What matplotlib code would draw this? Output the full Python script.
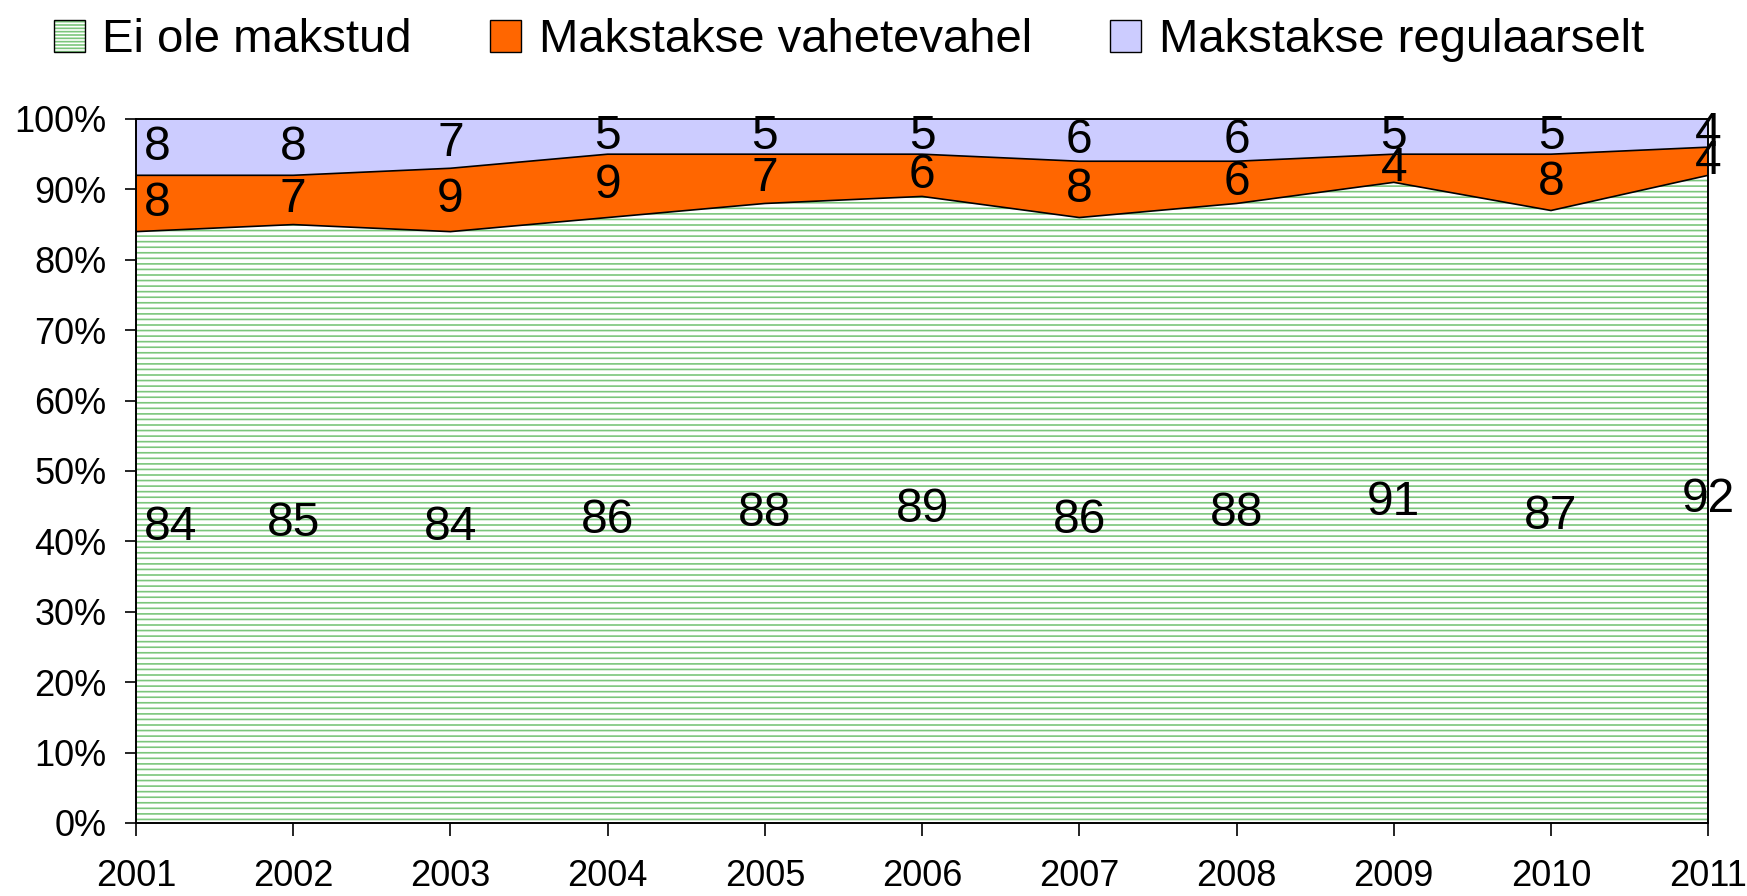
import matplotlib
matplotlib.use('Agg')
import matplotlib.pyplot as plt
from matplotlib.patches import Patch
import numpy as np

plt.rcParams['font.family'] = ['Liberation Sans', 'DejaVu Sans']
plt.rcParams['hatch.linewidth'] = 1.2

years = [2001, 2002, 2003, 2004, 2005, 2006, 2007, 2008, 2009, 2010, 2011]
ei_ole = [84, 85, 84, 86, 88, 89, 86, 88, 91, 87, 92]
vahetevahel = [8, 7, 9, 9, 7, 6, 8, 6, 4, 8, 4]
regulaarselt = [8, 8, 7, 5, 5, 5, 6, 6, 5, 5, 4]
names = ['Ei ole makstud', 'Makstakse vahetevahel', 'Makstakse regulaarselt']

green = '#7cc67c'
orange = '#ff6600'
lavender = '#ccccff'

fig = plt.figure(figsize=(17.47, 8.96), dpi=100)
ax = fig.add_axes([0.0778, 0.0815, 0.9, 0.7857])

x = np.array(years)
g = np.array(ei_ole, dtype=float)
o = g + np.array(vahetevahel)
r = o + np.array(regulaarselt)

ax.fill_between(x, 0, g, facecolor='white', edgecolor=green, hatch='---', lw=0)
ax.fill_between(x, g, o, facecolor=orange, lw=0)
ax.fill_between(x, o, r, facecolor=lavender, lw=0)
ax.plot(x, g, color='black', lw=1.2)
ax.plot(x, o, color='black', lw=1.2)

lab_fs = 34.5
for i, yr in enumerate(years):
    ha = 'left' if i == 0 else 'center'
    xx = yr + 0.05 if i == 0 else yr
    ax.text(xx, g[i] / 2, str(ei_ole[i]), ha=ha, va='center', fontsize=lab_fs)
    ax.text(xx, (g[i] + o[i]) / 2, str(vahetevahel[i]), ha=ha, va='center', fontsize=lab_fs)
    ax.text(xx, (o[i] + r[i]) / 2, str(regulaarselt[i]), ha=ha, va='center', fontsize=lab_fs)

ax.set_xlim(2001, 2011)
ax.set_ylim(0, 100)
ax.set_xticks(years)
ax.set_yticks(range(0, 101, 10))
ax.set_yticklabels([f'{v}%' for v in range(0, 101, 10)])
ax.tick_params(axis='y', direction='out', length=8, width=1.2, pad=13, labelsize=26)
ax.tick_params(axis='x', direction='out', length=9, width=1.2, pad=17, labelsize=26)
for s in ax.spines.values():
    s.set_linewidth(1.4)

handles = [
    (Patch(facecolor='white', edgecolor=green, hatch='-----', lw=0),
     Patch(facecolor='none', edgecolor='black', lw=1)),
    Patch(facecolor=orange, edgecolor='black', lw=1),
    Patch(facecolor=lavender, edgecolor='black', lw=1),
]
fig.legend(handles, names, loc='center left', bbox_to_anchor=(0.0307, 0.955),
           ncol=3, frameon=False, fontsize=34, handlelength=0.66, handleheight=0.66,
           handletextpad=0.37, columnspacing=1.66, borderaxespad=0, borderpad=0)

fig.savefig('out.png', dpi=100)
